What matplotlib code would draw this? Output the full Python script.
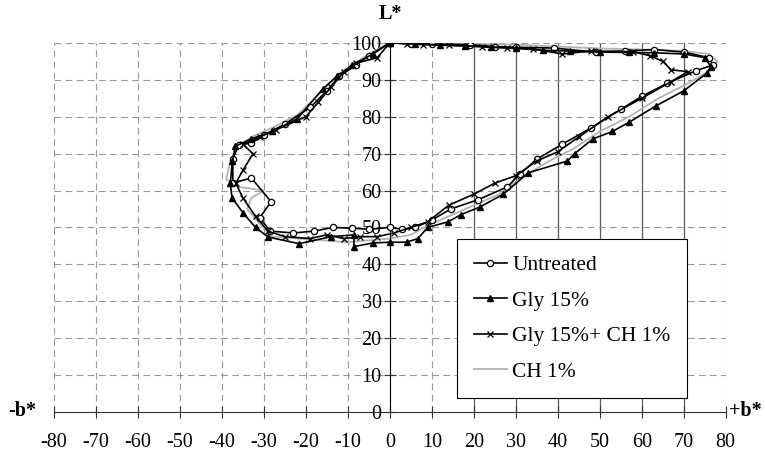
import matplotlib.pyplot as plt
import numpy as np

plt.rcParams['font.family'] = ['Liberation Serif', 'DejaVu Serif']

# b* (x) and L* (y) readings for each treatment
untreated_b = [0, 5, 10, 19, 25, 30, 39, 49, 56, 63, 70, 76, 77, 73, 66, 60, 55, 48, 41, 35,
               31, 28, 21, 14.5, 10, 6, 3, 0, -5, -9, -13.6, -18, -23, -28.5, -31, -28.3, -33,
               -37.4, -37.4, -36, -33, -30, -25, -19, -15, -12, -8, -5, 0]
untreated_L = [100, 99.8, 99.7, 99.5, 99, 98.8, 98.6, 97.5, 97.8, 98.2, 97.5, 96, 94, 92.5, 89,
               85.5, 82, 77, 72.5, 68.5, 64.5, 61, 57.5, 55, 52, 50, 49.5, 50, 49.5, 49.8, 50,
               49, 48.5, 49, 52.6, 57, 63.4, 62, 68.6, 72.4, 72.8, 75, 78, 82.5, 87, 91, 94,
               96.5, 100]

gly_b = [0, 6, 12, 18, 24, 30, 36.4, 43, 50, 57, 63, 70, 75, 76.5, 75.5, 70, 63.5, 57, 53,
         48.4, 44, 42.3, 33, 27, 21.4, 17, 13.8, 9, 6.7, 4, 0, -4, -8.6, -8.5, -14, -21.6, -29,
         -32, -35, -37.6, -38, -37.5, -36.8, -33, -28, -22, -16, -12.6, -9, -4, 0]
gly_L = [100, 99.7, 99.5, 99.2, 98.8, 98.5, 98, 97.8, 97.5, 97.4, 97.3, 97, 96, 93.5, 91.8,
         87, 83, 78.5, 76, 74, 70, 68, 64.8, 59, 55.5, 53.5, 51.5, 50, 47, 46, 46, 45.8, 44.8,
         48, 47.5, 45.6, 47.4, 50, 54, 58, 62, 68, 72, 74, 76, 79.5, 87.5, 91, 94, 97, 100]

glych_b = [0, 4, 8, 14, 22, 28, 34, 41, 48, 58, 62, 65, 67, 71, 67, 60, 52, 45, 40, 35, 30,
           25, 20, 14, 9, 5, 1, -3, -7, -11, -15, -19, -25, -29, -32, -35, -36.7, -35, -32.6,
           -35, -31, -27, -20, -17, -14, -11, -8, -3, 0]
glych_L = [100, 99.8, 99.5, 99.3, 99, 98.7, 98.4, 97, 97.8, 97.6, 96.5, 95, 92.7, 92.2, 89.5,
           85, 80, 74.5, 70.5, 68, 64, 62, 59, 56, 51.5, 50, 48.5, 47.5, 47.5, 47, 48, 47, 47.5,
           49, 53, 58, 62, 65.5, 70, 72.5, 74.5, 76.5, 80, 84, 88, 92, 94.5, 96, 100]

ch_b = [0, 10, 20, 30, 40, 50, 60, 70, 76, 78, 77, 71, 64, 57, 50, 44, 38, 32, 26, 20, 14, 9,
        5, 0, -5, -10, -16, -22, -28, -31, -34, -33, -30, -36, -39, -38, -36, -33, -28, -22,
        -17, -13, -9, -5, 0]
ch_L = [100, 100, 99.8, 99.5, 99, 98.5, 98.2, 97.8, 97, 95, 93, 89, 85, 80, 76, 71.5, 68, 64,
        59, 56, 53, 50.5, 48, 47, 46.5, 46, 46.5, 47, 47.5, 51, 55, 58, 60, 61, 63, 68, 72,
        74.5, 77, 80.5, 86, 90.5, 94, 97, 100]

x_ticks = np.arange(-80, 81, 10)
y_ticks = np.arange(0, 101, 10)

fig = plt.figure(figsize=(7.65, 4.58), dpi=100)
ax = fig.add_axes([0.0706, 0.1004, 0.878, 0.806])
ax.set_xlim(-80, 80)
ax.set_ylim(0, 100)

# grid
for xv in x_ticks:
    if 20 <= xv <= 70:
        ax.axvline(xv, color='0.35', lw=0.9, zorder=0)
    else:
        ax.axvline(xv, color='0.6', lw=0.8, ls=(0, (6, 4)), zorder=0)
for yv in y_ticks[1:]:
    ax.axhline(yv, color='0.6', lw=0.8, ls=(0, (6, 4)), zorder=0)

# axes crossing at the origin
for s in ['top', 'right']:
    ax.spines[s].set_visible(False)
ax.spines['left'].set_position(('data', 0))
ax.spines['bottom'].set_position(('data', 0))
ax.spines['left'].set_color('black')
ax.spines['bottom'].set_color('0.2')
ax.set_xticks(x_ticks)
ax.set_yticks(y_ticks)
ax.tick_params(axis='both', direction='inout', length=8, width=0.8, color='0.2',
               labelsize=14.5)
ax.tick_params(axis='x', pad=11)
ax.tick_params(axis='y', pad=2)
ax.set_xticklabels([str(v) for v in x_ticks])

ax.plot(ch_b, ch_L, color='0.7', lw=1.3, label='CH 1%', zorder=2)
ax.plot(untreated_b, untreated_L, color='black', lw=1.2, marker='o', ms=4.5,
        mfc='white', mec='black', mew=0.9, label='Untreated', zorder=3)
ax.plot(gly_b, gly_L, color='black', lw=1.2, marker='^', ms=4.5,
        mfc='black', mec='black', label='Gly 15%', zorder=3)
ax.plot(glych_b, glych_L, color='black', lw=1.2, marker='x', ms=5,
        mew=0.9, label='Gly 15%+ CH 1%', zorder=3)

handles, labels = ax.get_legend_handles_labels()
order = [1, 2, 3, 0]
leg = ax.legend([handles[i] for i in order], [labels[i] for i in order],
                loc='lower right', bbox_to_anchor=(0.942, 0.038), borderaxespad=0,
                fontsize=15.5, frameon=True, fancybox=False, edgecolor='black',
                framealpha=1, handlelength=1.55, handletextpad=0.25,
                labelspacing=0.72, borderpad=0.75)
leg.get_frame().set_linewidth(0.8)

fig.text(390 / 765, 1 - 14 / 458, 'L*', ha='center', va='center', fontsize=14.5,
         fontweight='bold')
fig.text(22 / 765, 1 - 411 / 458, '-b*', ha='center', va='center', fontsize=14.5,
         fontweight='bold')
fig.text(745 / 765, 1 - 411 / 458, '+b*', ha='center', va='center', fontsize=14.5,
         fontweight='bold')

fig.savefig('out.png', dpi=100)
